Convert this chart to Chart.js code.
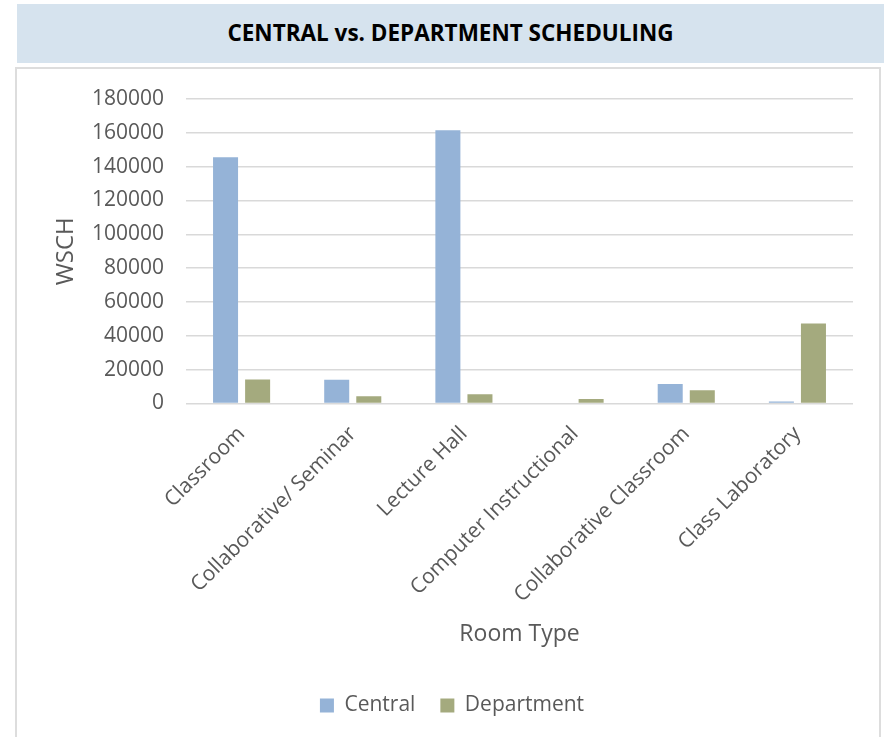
<!DOCTYPE html>
<html>
<head>
<meta charset="utf-8">
<script src="https://cdn.jsdelivr.net/npm/chart.js@4"></script>
<style>
  body { margin: 0; background: #fff; width: 884px; height: 737px; overflow: hidden; position: relative; }
  #band {
    position: absolute; left: 17px; top: 4px; width: 867px; height: 59px;
    background: #D6E3EE; font-family: "Open Sans", sans-serif; font-weight: bold;
    font-size: 22.5px; color: #000; text-align: center; line-height: 58px;
  }
  #box {
    position: absolute; left: 15px; top: 67px; width: 862px; height: 700px;
    border: 2px solid #DDDDDD;
  }
  #chart { position: absolute; left: 17px; top: 70px; }
</style>
</head>
<body>
<div id="band">CENTRAL vs. DEPARTMENT SCHEDULING</div>
<div id="box"></div>
<canvas id="chart" width="862" height="667"></canvas>
<script>
const roomTypes = ['Classroom', 'Collaborative/ Seminar', 'Lecture Hall', 'Computer Instructional', 'Collaborative Classroom', 'Class Laboratory'];
const central = [145500, 14000, 161500, 0, 11600, 1200];
const department = [14200, 4300, 5500, 2700, 7900, 47300];
const yMax = 180000;
const yStep = 20000;

const textColor = '#595959';
const font = 'Open Sans';

new Chart(document.getElementById('chart').getContext('2d'), {
    type: 'bar',
    data: {
        labels: roomTypes,
        datasets: [
            {
                label: 'Central',
                data: central,
                backgroundColor: '#95B3D7',
                categoryPercentage: 0.577,
                barPercentage: 0.78
            },
            {
                label: 'Department',
                data: department,
                backgroundColor: '#A4AA7E',
                categoryPercentage: 0.577,
                barPercentage: 0.78
            }
        ]
    },
    options: {
        responsive: false,
        devicePixelRatio: 1,
        animation: false,
        layout: { padding: { top: 29, right: 26, bottom: 11, left: 34 } },
        plugins: {
            legend: {
                position: 'bottom',
                labels: {
                    boxWidth: 14,
                    boxHeight: 14,
                    padding: 25,
                    color: textColor,
                    font: { family: font, size: 21 }
                }
            },
            tooltip: { enabled: false }
        },
        scales: {
            x: {
                grid: { display: false },
                border: { display: false },
                ticks: {
                    color: textColor,
                    font: { family: font, size: 21 },
                    minRotation: 45,
                    maxRotation: 45,
                    autoSkip: false,
                    padding: 10
                },
                title: {
                    display: true,
                    text: 'Room Type',
                    color: textColor,
                    font: { family: font, size: 23 },
                    padding: { top: 0, bottom: 22 }
                },
                afterFit: s => { s.height = 266.5; }
            },
            y: {
                min: 0,
                max: yMax,
                grid: { color: '#D9D9D9', lineWidth: 1.5, drawTicks: false },
                border: { display: false },
                ticks: {
                    stepSize: yStep,
                    color: textColor,
                    font: { family: font, size: 21 },
                    padding: 22,
                    callback: v => String(v)
                },
                title: {
                    display: true,
                    text: 'WSCH',
                    color: textColor,
                    font: { family: font, size: 24 },
                    padding: { top: 1, bottom: 0 }
                },
                afterFit: s => {
                    s.width = 135;
                    // keep the top of the plot where the layout padding puts it
                    s.paddingTop = 0;
                    s.paddingBottom = 0;
                }
            }
        }
    }
});
</script>
</body>
</html>
